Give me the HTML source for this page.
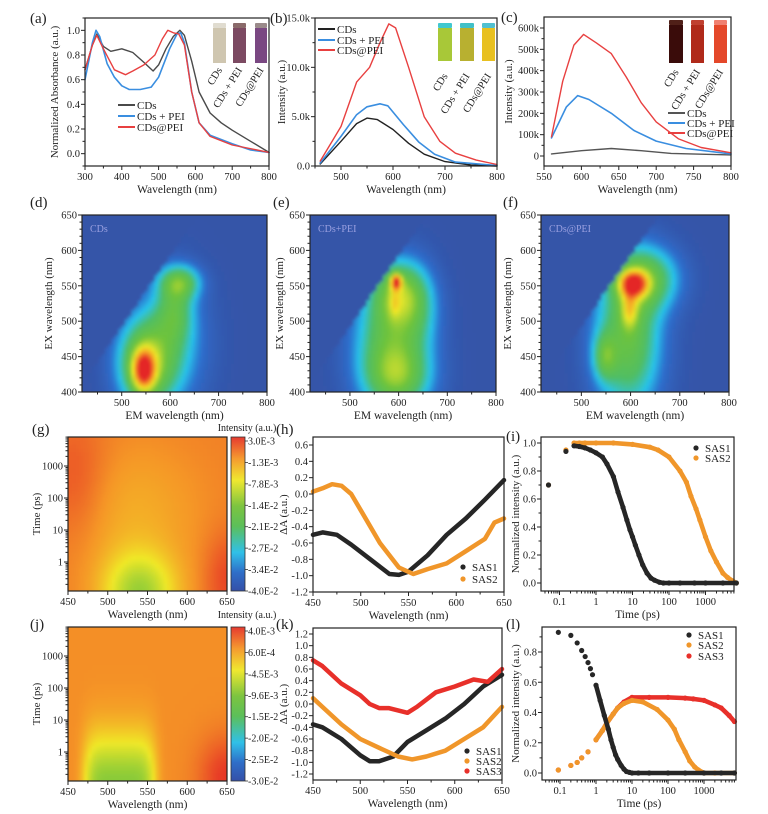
<!DOCTYPE html>
<html><head><meta charset="utf-8"><style>
html,body{margin:0;padding:0;background:#fff;overflow:hidden;}
svg{display:block;font-family:"Liberation Serif",serif;}
text{fill:#222;}
</style></head><body>
<svg id="fig" width="768" height="814" viewBox="0 0 768 814" xmlns="http://www.w3.org/2000/svg">
<defs>
<filter id="blur" x="-5%" y="-5%" width="110%" height="110%"><feGaussianBlur stdDeviation="1.6"/></filter>
<linearGradient id="cbar" x1="0" y1="1" x2="0" y2="0">
<stop offset="0" stop-color="#3450a8"/><stop offset="0.12" stop-color="#2f6ec8"/><stop offset="0.25" stop-color="#30c0e8"/><stop offset="0.42" stop-color="#5cbf5a"/><stop offset="0.55" stop-color="#7cc440"/><stop offset="0.72" stop-color="#f0e830"/><stop offset="0.86" stop-color="#f59a30"/><stop offset="1" stop-color="#e63a30"/>
</linearGradient>
</defs>
</svg>
<script>
// ---------- DATA ----------
const absWl = [300,320,332,350,370,400,430,460,485,500,520,540,558,570,590,610,640,670,700,750,800];
const absCDs = [0.68,0.88,0.97,0.87,0.83,0.85,0.82,0.74,0.67,0.72,0.85,0.95,1.0,0.96,0.75,0.5,0.33,0.25,0.19,0.1,0.01];
const absPEIWl = [300,320,330,340,360,380,400,420,450,480,500,530,550,560,570,590,610,640,700,750,800];
const absPEI = [0.6,0.9,1.0,0.95,0.73,0.62,0.55,0.52,0.52,0.54,0.62,0.85,0.97,0.98,0.9,0.5,0.25,0.15,0.08,0.03,0.01];
const absAtWl = [300,320,332,350,380,410,430,460,490,510,525,540,555,570,590,610,640,700,800];
const absAt = [0.68,0.88,0.96,0.85,0.68,0.64,0.67,0.72,0.8,0.93,1.0,0.98,0.97,0.88,0.5,0.25,0.14,0.07,0.01];

const plCDsWl = [460,500,530,550,570,600,630,660,700,750,800];
const plCDs = [200,2500,4300,4850,4700,3700,2300,1200,450,100,0];
const plPEIWl = [460,500,530,550,575,590,620,650,680,720,800];
const plPEI = [300,3000,5200,6000,6300,6100,4200,2400,1200,400,50];
const plAtWl = [460,500,530,555,575,592,605,630,660,690,720,760,800];
const plAt = [500,4000,8500,10000,12500,14400,14000,10000,5000,2500,1300,600,150];

const upCDsWl = [560,600,640,680,720,800];
const upCDs = [10,25,35,25,12,5];
const upPEIWl = [560,580,595,610,640,670,700,740,800];
const upPEI = [85,230,283,265,200,120,70,35,10];
const upAtWl = [560,575,590,603,620,640,660,680,700,730,760,800];
const upAt = [90,350,520,570,530,480,370,250,160,80,40,15];

// EEM blobs: [em, ex, amplitude, sigmaEm, sigmaEx]
const eemD = [[545,430,0.6,17,21],[550,440,0.48,40,42],[600,470,0.22,50,60],[620,555,0.38,28,16],[610,515,0.25,25,30]];
const eemE = [[595,556,0.58,8,8],[600,540,0.38,35,30],[585,470,0.42,50,60],[600,420,0.3,45,30],[592,525,0.12,7,14],[640,520,0.15,30,40]];
const eemF = [[605,553,0.64,20,13],[598,515,0.3,12,18],[548,450,0.28,16,22],[595,475,0.45,45,70],[630,560,0.4,45,30]];

// TA map blobs: [wavelength, log10(t), amplitude, sigmaWl, power, sigmaLogT]
const taBaseG = 0.88;
const taG = [[540,-1.0,-0.3,32,2,0.9],[530,1.5,-0.07,60,2,1.5],[460,2.5,0.07,30,2,1.4],[650,-0.5,0.08,20,2,1.0]];
const taBaseJ = 0.86;
const taJ = [[515,-1.0,-0.32,40,6,1.1],[650,-0.8,0.12,25,2,0.9]];
const cbLabelsG = ["3.0E-3","-1.3E-3","-7.8E-3","-1.4E-2","-2.1E-2","-2.7E-2","-3.4E-2","-4.0E-2"];
const cbLabelsJ = ["4.0E-3","6.0E-4","-4.5E-3","-9.6E-3","-1.5E-2","-2.0E-2","-2.5E-2","-3.0E-2"];

const hWl1 = [450,460,475,490,510,530,540,550,570,590,610,630,650];
const hSAS1 = [-0.5,-0.47,-0.5,-0.62,-0.8,-0.98,-0.99,-0.95,-0.75,-0.5,-0.3,-0.07,0.17];
const hWl2 = [450,460,470,480,490,500,520,540,555,570,590,610,630,640,650];
const hSAS2 = [0.03,0.07,0.12,0.1,0.0,-0.2,-0.6,-0.9,-0.98,-0.92,-0.85,-0.7,-0.55,-0.35,-0.3];

const iT1 = [0.05,0.15,0.25,0.35,0.5,0.7,1,1.5,2,3,4,5.5,7,8.5,10,12,15,19,25,32,40,55,70,100,200,500,1000,3000,7000];
const iSAS1 = [0.7,0.94,0.98,0.975,0.965,0.95,0.93,0.9,0.85,0.76,0.65,0.54,0.45,0.38,0.33,0.27,0.2,0.13,0.07,0.035,0.02,0.005,0,0,0,0,0,0,0];
const iT2 = [0.05,0.15,0.25,0.35,0.5,1,3,10,30,50,100,200,300,400,550,700,1000,1400,2000,3000,4000,5500,7000];
const iSAS2 = [0.7,0.95,1.0,1.0,1.0,1.0,1.0,0.99,0.97,0.95,0.9,0.8,0.72,0.62,0.53,0.45,0.33,0.23,0.15,0.07,0.04,0.015,0.0];

const kWl1 = [450,460,480,500,510,520,535,550,570,590,610,630,650];
const kSAS1 = [-0.35,-0.4,-0.6,-0.88,-0.98,-0.98,-0.9,-0.65,-0.45,-0.25,0.0,0.3,0.5];
const kWl2 = [450,460,480,500,520,540,555,570,590,610,630,650];
const kSAS2 = [0.1,-0.05,-0.35,-0.6,-0.75,-0.9,-0.95,-0.9,-0.8,-0.6,-0.4,-0.05];
const kWl3 = [450,460,480,500,510,520,530,550,560,580,600,620,635,650];
const kSAS3 = [0.75,0.65,0.35,0.15,0.0,-0.07,-0.07,-0.15,-0.05,0.2,0.3,0.42,0.38,0.6];

const lT1 = [0.09,0.2,0.3,0.4,0.5,0.6,0.7,0.8,1.0,1.3,1.7,2.2,2.6,3,3.5,4,5,6,7,8.5,10,15,30,100,300,1000,3000,7000];
const lSAS1 = [0.93,0.91,0.86,0.81,0.77,0.73,0.69,0.65,0.58,0.48,0.38,0.29,0.22,0.17,0.12,0.09,0.05,0.025,0.01,0.004,0,0,0,0,0,0,0,0];
const lT2 = [0.09,0.2,0.3,0.4,0.6,1,1.5,2,3,4,6,10,20,50,100,150,200,300,400,550,700,1000,2000,7000];
const lSAS2 = [0.02,0.05,0.07,0.1,0.14,0.22,0.28,0.33,0.39,0.43,0.46,0.48,0.47,0.42,0.35,0.29,0.22,0.14,0.08,0.04,0.02,0.0,0,0];
const lT3 = [0.09,0.2,0.3,0.4,0.6,1,1.5,2,3,4,6,10,30,100,300,500,1000,2000,3000,5000,7000];
const lSAS3 = [0.02,0.05,0.07,0.1,0.14,0.22,0.28,0.33,0.39,0.43,0.47,0.5,0.5,0.5,0.495,0.49,0.48,0.45,0.43,0.38,0.34];

// ---------- HELPERS ----------
const NS='http://www.w3.org/2000/svg';
const svg=document.getElementById('fig');
function mk(tag,parent){const e=document.createElementNS(NS,tag);parent.appendChild(e);return e;}
function set(e,o){for(const k in o)e.setAttribute(k,o[k]);return e;}
function lin(d0,d1,r0,r1){return v=>r0+(v-d0)/(d1-d0)*(r1-r0);}
function lg(c1,per){return v=>c1+Math.log10(v)*per;}
function text(parent,x,y,s,size,anchor,rot,name){
  const t=mk('text',parent);set(t,{x:x,y:y,'font-size':size,'text-anchor':anchor||'middle'});
  if(rot)t.setAttribute('transform','rotate('+rot+' '+x+' '+y+')');
  t.textContent=s;
  
  
  return t;
}
function line(parent,x1,y1,x2,y2,stroke,w){const l=mk('line',parent);set(l,{x1:x1,y1:y1,x2:x2,y2:y2,stroke:stroke||'#222','stroke-width':w||1});return l;}

function axes(g,p){
  p.xt.forEach((v,i)=>{const x=p.sx(v);
    const tk=line(g,x,p.y1,x,p.y1+4);
    
    
    text(g,x,p.y1+14,p.xl[i],10.5,'middle',0,'x-tick-label');});
  (p.xm||[]).forEach(v=>{const x=p.sx(v);if(x<p.x0-0.5||x>p.x1+0.5)return;
    const tk=line(g,x,p.y1,x,p.y1+2.5);
    
    });
  p.yt.forEach((v,i)=>{const y=p.sy(v);
    const tk=line(g,p.x0,y,p.x0-4,y);
    
    
    text(g,p.x0-5,y+3.5,p.yl[i],10.5,'end',0,'y-tick-label');});
  (p.ym||[]).forEach(v=>{const y=p.sy(v);if(y<p.y0-0.5||y>p.y1+0.5)return;
    const tk=line(g,p.x0,y,p.x0-2.5,y);
    
    });
  const r=mk('rect',g);set(r,{x:p.x0,y:p.y0,width:p.x1-p.x0,height:p.y1-p.y0,fill:'none',stroke:'#222','stroke-width':1.2});
  
  
  text(g,(p.x0+p.x1)/2,p.y1+27,p.xtitle,11.5,'middle',0,'x-axis-title');
  text(g,p.ytx,(p.y0+p.y1)/2,p.ytitle,11,'middle',-90,'y-axis-title');
}
function logMinor(lo,hi){const a=[];for(let d=lo;d<=hi;d++)for(let k=2;k<=9;k++)a.push(k*Math.pow(10,d));return a;}
function path(g,xs,ys,sx,sy,color,w,name){
  const p=mk('path',g);
  p.setAttribute('d',xs.map((v,i)=>(i?'L':'M')+sx(v).toFixed(1)+','+sy(ys[i]).toFixed(1)).join(''));
  set(p,{fill:'none',stroke:color,'stroke-width':w,'stroke-linejoin':'round','stroke-linecap':'round'});
  
  
  return p;
}
function dots(g,xs,ys,sx,sy,color,denseFrom,name){
  const gg=mk('g',g);
  
  
  for(let i=1;i<xs.length;i++){if(xs[i-1]<denseFrom)continue;
    const l=line(gg,sx(xs[i-1]),sy(ys[i-1]),sx(xs[i]),sy(ys[i]),color,4.6);l.setAttribute('stroke-linecap','round');
    
    }
  xs.forEach((v,i)=>{const c=mk('circle',gg);set(c,{cx:sx(v),cy:sy(ys[i]),r:2.6,fill:color});
    
    });
}
function legLine(g,x,y,color,label){
  const l=line(g,x,y,x+17,y,color,2);
  
  
  text(g,x+19,y+4,label,11,'start',0,'legend-label');
}
function legDot(g,x,y,color,label){
  const c=mk('circle',g);set(c,{cx:x,cy:y,r:2.6,fill:color});
  
  
  text(g,x+9,y+4,label,11,'start',0,'legend-label');
}
function panelLabel(x,y,s){text(svg,x,y,s,15,'start',0,'panel-label');}
const stops=[[0,[52,84,168]],[0.1,[45,110,205]],[0.2,[40,195,235]],[0.33,[80,190,100]],[0.5,[110,195,60]],[0.7,[240,232,40]],[0.85,[245,150,40]],[1,[228,40,40]]];
function cmap(v){v=Math.max(0,Math.min(1,v));for(let i=1;i<stops.length;i++){if(v<=stops[i][0]){const a=stops[i-1],b=stops[i],t=(v-a[0])/(b[0]-a[0]);
  return 'rgb('+a[1].map((c,k)=>Math.round(c+(b[1][k]-c)*t)).join(',')+')';}}return 'rgb(228,40,40)';}
let clipN=0;
function heat(g,x0,x1,y0,y1,nx,ny,fn,name){
  const id='clip'+(clipN++);
  const cp=mk('clipPath',svg.querySelector('defs'));cp.setAttribute('id',id);
  const cr=mk('rect',cp);set(cr,{x:x0,y:y0,width:x1-x0,height:y1-y0});
  const outer=mk('g',g);outer.setAttribute('clip-path','url(#'+id+')');
  
  
  const inner=mk('g',outer);inner.setAttribute('filter','url(#blur)');
  const cw=(x1-x0)/nx,ch=(y1-y0)/ny;
  for(let i=-1;i<=nx;i++)for(let j=-1;j<=ny;j++){
    const u=Math.min(Math.max((i+0.5)/nx,0),1),w=Math.min(Math.max((j+0.5)/ny,0),1);
    const r=mk('rect',inner);set(r,{x:(x0+i*cw).toFixed(2),y:(y0+j*ch).toFixed(2),width:(cw+0.6).toFixed(2),height:(ch+0.6).toFixed(2),fill:cmap(fn(u,1-w))});
    
    
  }
}
function eemVal(blobs){return (u,w)=>{const em=418+u*(800-418),ex=400+w*250;
  if(ex>em-8)return 0;let v=0;blobs.forEach(b=>{v+=b[2]*Math.exp(-0.5*Math.pow((em-b[0])/b[3],2)-0.5*Math.pow((ex-b[1])/b[4],2));});return v;};}
function taVal(base,blobs,lt0,lt1){return (u,w)=>{const wl=450+u*200,lt=lt0+w*(lt1-lt0);let v=base;
  blobs.forEach(b=>{v+=b[2]*Math.exp(-0.5*Math.pow(Math.abs(wl-b[0])/b[3],b[4])-0.5*Math.pow((lt-b[1])/b[5],2));});return v;};}
function vial(g,x,y,w,h,body,cap,label,ly){
  const c=mk('rect',g);set(c,{x:x,y:y,width:w,height:5,fill:cap,rx:1});
  
  
  const b=mk('rect',g);set(b,{x:x,y:y+5,width:w,height:h-5,fill:body});
  
  
  text(g,x+w/2+3,ly,label,10.5,'end',-58,'vial-label');
}

// ---------- PANEL A ----------
{const g=mk('g',svg);
const sx=lin(300,800,85,269),sy=lin(-0.1,1.1,166,18);
path(g,absWl,absCDs,sx,sy,'#4a4a4a',1.4,'line-cds');
path(g,absPEIWl,absPEI,sx,sy,'#3a8ee0',1.6,'line-cds-pei');
path(g,absAtWl,absAt,sx,sy,'#e84040',1.4,'line-cds-at-pei');
axes(g,{x0:85,x1:269,y0:18,y1:166,sx:sx,sy:sy,xt:[300,400,500,600,700,800],xl:['300','400','500','600','700','800'],xm:[350,450,550,650,750],
 yt:[0,0.2,0.4,0.6,0.8,1.0],yl:['0.0','0.2','0.4','0.6','0.8','1.0'],ym:[-0.1,0.1,0.3,0.5,0.7,0.9,1.1],xtitle:'Wavelength (nm)',ytitle:'Normalized Absorbance (a.u.)',ytx:58});
legLine(g,118,105,'#4a4a4a','CDs');legLine(g,118,116,'#3a8ee0','CDs + PEI');legLine(g,118,127,'#e84040','CDs@PEI');
vial(g,213,23,13,40,'#cfc6b0','#e0dcd0','CDs',70);vial(g,233,23,13,40,'#7c4a62','#8a6a6a','CDs + PEI',70);vial(g,255,23,12,40,'#7a4882','#9a8a8a','CDs@PEI',70);
}
// ---------- PANEL B ----------
{const g=mk('g',svg);
const sx=lin(450,800,315,497),sy=lin(0,15000,166,18);
path(g,plCDsWl,plCDs,sx,sy,'#222',1.4,'line-cds');
path(g,plPEIWl,plPEI,sx,sy,'#3a8ee0',1.6,'line-cds-pei');
path(g,plAtWl,plAt,sx,sy,'#e84040',1.4,'line-cds-at-pei');
axes(g,{x0:315,x1:497,y0:18,y1:166,sx:sx,sy:sy,xt:[500,600,700,800],xl:['500','600','700','800'],xm:[450,550,650,750],
 yt:[0,5000,10000,15000],yl:['0.0','5.0k','10.0k','15.0k'],ym:[2500,7500,12500],xtitle:'Wavelength (nm)',ytitle:'Intensity (a.u.)',ytx:285});
legLine(g,318,29,'#222','CDs');legLine(g,318,40,'#3a8ee0','CDs + PEI');legLine(g,318,50,'#e84040','CDs@PEI');
vial(g,438,23,14,38,'#a8c838','#40c8d0','CDs',76);vial(g,460,23,14,38,'#b8b030','#40c0c8','CDs + PEI',76);vial(g,482,23,13,38,'#e8c020','#50c0d0','CDs@PEI',76);
}
// ---------- PANEL C ----------
{const g=mk('g',svg);
const sx=lin(550,800,544,731),sy=lin(0,600,156,28);
path(g,upCDsWl,upCDs,sx,sy,'#555',1.4,'line-cds');
path(g,upPEIWl,upPEI,sx,sy,'#3a8ee0',1.6,'line-cds-pei');
path(g,upAtWl,upAt,sx,sy,'#e84040',1.4,'line-cds-at-pei');
axes(g,{x0:544,x1:731,y0:17,y1:166,sx:sx,sy:sy,xt:[550,600,650,700,750,800],xl:['550','600','650','700','750','800'],xm:[575,625,675,725,775],
 yt:[0,100,200,300,400,500,600],yl:['0','100k','200k','300k','400k','500k','600k'],ym:[50,150,250,350,450,550],xtitle:'Wavelength (nm)',ytitle:'Intensity (a.u.)',ytx:512});
legLine(g,668,113,'#555','CDs');legLine(g,668,123,'#3a8ee0','CDs + PEI');legLine(g,668,133,'#e84040','CDs@PEI');
vial(g,669,20,14,43,'#3a0c0a','#502018','CDs',72);vial(g,691,20,13,43,'#b02a1a','#c04030','CDs + PEI',72);vial(g,714,20,13,43,'#e4482a','#f08070','CDs@PEI',72);
}
// ---------- EEM PANELS ----------
[[82,267,eemD,'CDs','panel-d-eem-cds',52],[310,496,eemE,'CDs+PEI','panel-e-eem-cds-pei',283],[541,729,eemF,'CDs@PEI','panel-f-eem-cds-at-pei',511]].forEach(c=>{
 const g=mk('g',svg);
 heat(g,c[0],c[1],215,392,56,56,eemVal(c[2]),'eem-heatmap');
 const sx=lin(418,800,c[0],c[1]),sy=lin(400,650,392,215);
 axes(g,{x0:c[0],x1:c[1],y0:215,y1:392,sx:sx,sy:sy,xt:[500,600,700,800],xl:['500','600','700','800'],xm:[450,550,650,750],
  yt:[400,450,500,550,600,650],yl:['400','450','500','550','600','650'],ym:[410,420,430,440,460,470,480,490,510,520,530,540,560,570,580,590,610,620,630,640],xtitle:'EM wavelength (nm)',ytitle:'EX wavelength (nm)',ytx:c[5]});
 const t=text(g,c[0]+8,232,c[3],10,'start',0,'sample-label');t.setAttribute('style','fill:#9aa0e0');
});
// ---------- TA MAPS ----------
[[437,591,taBaseG,taG,cbLabelsG,'panel-g-ta-map',431],[627,781,taBaseJ,taJ,cbLabelsJ,'panel-j-ta-map',618]].forEach(c=>{
 const g=mk('g',svg);
 const y0=c[0],y1=c[1],c1=y1-29,per=32;const sy=lg(c1,-per);
 const lt0=(c1-y1)/per,lt1=(c1-y0)/per;
 heat(g,68,227,y0,y1,40,40,taVal(c[2],c[3],lt0,lt1),'ta-heatmap');
 const sx=lin(450,650,68,227);
 axes(g,{x0:68,x1:227,y0:y0,y1:y1,sx:sx,sy:sy,xt:[450,500,550,600,650],xl:['450','500','550','600','650'],xm:[475,525,575,625],
  yt:[1,10,100,1000],yl:['1','10','100','1000'],ym:logMinor(-1,3),xtitle:'Wavelength (nm)',ytitle:'Time (ps)',ytx:40});
 const cb=mk('rect',g);set(cb,{x:231,y:y0,width:14,height:y1-y0,fill:'url(#cbar)',stroke:'#333','stroke-width':0.8});
 
 
 c[4].forEach((s,i)=>{const y=y0+4+i*(y1-y0-4)/(c[4].length-1);
   const tk=line(g,245,y,248,y,'#333',0.8);
   
   
   text(g,248,y+3.5,s,10,'start',0,'colorbar-label');});
 text(g,247,c[6],'Intensity (a.u.)',10,'middle',0,'colorbar-title');
});
// ---------- PANEL H ----------
{const g=mk('g',svg);
const sx=lin(450,650,313,504),sy=lin(-1.2,0.6,592,445);
path(g,hWl1,hSAS1,sx,sy,'#262626',4.5,'series-sas1');
path(g,hWl2,hSAS2,sx,sy,'#f0962a',4.5,'series-sas2');
axes(g,{x0:313,x1:504,y0:437,y1:592,sx:sx,sy:sy,xt:[450,500,550,600,650],xl:['450','500','550','600','650'],xm:[475,525,575,625],
 yt:[-1.2,-1.0,-0.8,-0.6,-0.4,-0.2,0,0.2,0.4,0.6],yl:['-1.2','-1.0','-0.8','-0.6','-0.4','-0.2','0.0','0.2','0.4','0.6'],ym:[],xtitle:'Wavelength (nm)',ytitle:'ΔA (a.u.)',ytx:287});
legDot(g,463,567,'#262626','SAS1');legDot(g,463,579,'#f0962a','SAS2');
}
// ---------- PANEL I ----------
{const g=mk('g',svg);
const sx=lg(596,36.5),sy=lin(0,1,583,443);
dots(g,iT2,iSAS2,sx,sy,'#f0962a',0.25,'series-sas2');
dots(g,iT1,iSAS1,sx,sy,'#262626',0.25,'series-sas1');
axes(g,{x0:541,x1:734,y0:437,y1:591,sx:sx,sy:sy,xt:[0.1,1,10,100,1000],xl:['0.1','1','10','100','1000'],xm:logMinor(-2,3),
 yt:[0,0.2,0.4,0.6,0.8,1.0],yl:['0.0','0.2','0.4','0.6','0.8','1.0'],ym:[0.1,0.3,0.5,0.7,0.9],xtitle:'Time (ps)',ytitle:'Normalized intensity (a.u.)',ytx:519});
legDot(g,696,448,'#262626','SAS1');legDot(g,696,458,'#f0962a','SAS2');
}
// ---------- PANEL K ----------
{const g=mk('g',svg);
const sx=lin(450,650,313,502),sy=lin(0,1.2,704,634);
path(g,kWl1,kSAS1,sx,sy,'#262626',4.5,'series-sas1');
path(g,kWl2,kSAS2,sx,sy,'#f0962a',4.5,'series-sas2');
path(g,kWl3,kSAS3,sx,sy,'#e8302a',4.5,'series-sas3');
const yt=[-1.2,-1.0,-0.8,-0.6,-0.4,-0.2,0,0.2,0.4,0.6,0.8,1.0,1.2];
axes(g,{x0:313,x1:502,y0:628,y1:780,sx:sx,sy:sy,xt:[450,500,550,600,650],xl:['450','500','550','600','650'],xm:[475,525,575,625],
 yt:yt,yl:yt.map(v=>v.toFixed(1)),ym:[],xtitle:'Wavelength (nm)',ytitle:'ΔA (a.u.)',ytx:287});
legDot(g,467,751,'#262626','SAS1');legDot(g,467,761,'#f0962a','SAS2');legDot(g,467,771,'#e8302a','SAS3');
}
// ---------- PANEL L ----------
{const g=mk('g',svg);
const sx=lg(596,36),sy=lin(0,0.8,773,652);
dots(g,lT3,lSAS3,sx,sy,'#e8302a',1,'series-sas3');
dots(g,lT2,lSAS2,sx,sy,'#f0962a',1,'series-sas2');
dots(g,lT1,lSAS1,sx,sy,'#262626',1,'series-sas1');
axes(g,{x0:542,x1:736,y0:627,y1:780,sx:sx,sy:sy,xt:[0.1,1,10,100,1000],xl:['0.1','1','10','100','1000'],xm:logMinor(-2,3),
 yt:[0,0.2,0.4,0.6,0.8],yl:['0.0','0.2','0.4','0.6','0.8'],ym:[0.1,0.3,0.5,0.7,0.9],xtitle:'Time (ps)',ytitle:'Normalized intensity (a.u.)',ytx:519});
legDot(g,689,635,'#262626','SAS1');legDot(g,689,645,'#f0962a','SAS2');legDot(g,689,656,'#e8302a','SAS3');
}
// ---------- PANEL LABELS ----------
panelLabel(30,23,'(a)');panelLabel(270,23,'(b)');panelLabel(501,22,'(c)');
panelLabel(30,207,'(d)');panelLabel(273,207,'(e)');panelLabel(503,207,'(f)');
panelLabel(32,434,'(g)');panelLabel(276,434,'(h)');panelLabel(506,441,'(i)');
panelLabel(30,629,'(j)');panelLabel(276,629,'(k)');panelLabel(506,629,'(l)');
</script>
</body></html>
